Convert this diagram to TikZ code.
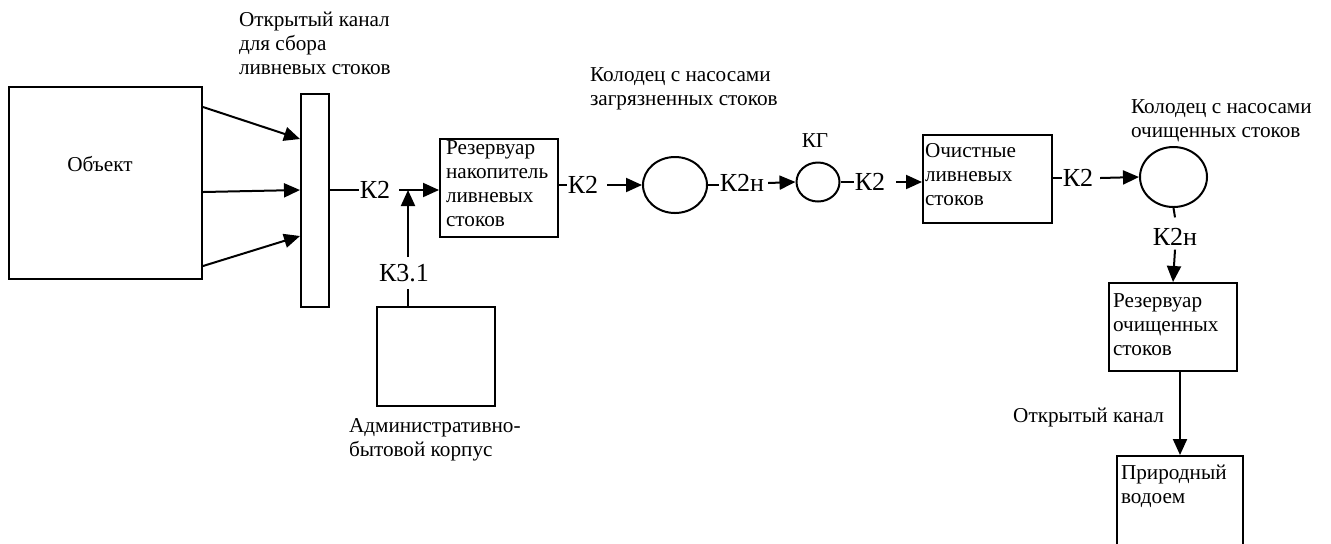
\documentclass[tikz,border=0pt]{standalone}
\usepackage{fontspec}
\setmainfont{Liberation Serif}
\usetikzlibrary{arrows.meta,shapes.geometric}

\begin{document}
\begin{tikzpicture}[x=0.5pt,y=-0.5pt,line width=1pt,
  unit/.style={draw,rectangle,inner sep=0pt},
  well/.style={draw,ellipse,inner sep=0pt},
  txt/.style={font=\fontsize{10.6}{12}\selectfont,align=left,inner sep=0pt},
  pipe/.style={font=\fontsize{13}{14}\selectfont,inner sep=0pt},
  flow/.style={-{Triangle[length=8pt,width=7pt]}}]
\useasboundingbox (0,0) rectangle (1331,543);
\clip (0,0) rectangle (1331,543);

% Object and open channel
\node[unit,minimum width=96.5pt,minimum height=96pt] (obj) at (105.5,183) {};
\node[txt,anchor=base] (objtxt) at (100,171) {Объект};
\node[unit,minimum width=14pt,minimum height=106.5pt] (chan) at (315,200.5) {};
\node[txt,anchor=base west] (chantxt) at (238,74) {Открытый канал\\для сбора\\ливневых стоков};
\draw[flow] ([yshift=38pt]obj.east) -- ([yshift=30.75pt]chan.west);
\draw[flow] ([yshift=-4.5pt]obj.east) -- ([yshift=5.25pt]chan.west);
\draw[flow] ([yshift=-41.5pt]obj.east) -- ([yshift=-17.75pt]chan.west);

% Storage tank and admin building
\node[unit,minimum width=59pt,minimum height=49pt] (res) at (499,188) {};
\node[txt,anchor=base west] (restxt) at (445,226) {Резервуар\\накопитель\\ливневых\\стоков};
\node[pipe] (k2a) at (375,190) {К2};
\draw (chan.east |- k2a) -- (k2a.west);
\draw[flow] ([xshift=4pt]k2a.east) -- (res.west |- k2a);
\node[unit,minimum width=59pt,minimum height=49.5pt] (admin) at (436,356.5) {};
\node[txt,anchor=base west] (admintxt) at (348,456) {Административно-\\бытовой корпус};
\coordinate (join) at (408,190);
\node[pipe,inner ysep=3pt] (k31) at (404,273) {К3.1};
\draw (admin.north -| join) -- (k31.south -| join);
\draw[flow] (k31.north -| join) -- (join);

% Pump wells and treatment
\node[well,minimum width=32pt,minimum height=28pt] (c1) at (675,185) {};
\node[txt,anchor=base west] (c1txt) at (589,105) {Колодец с насосами\\загрязненных стоков};
\node[pipe] (k2b) at (583,185) {К2};
\draw (res.east |- k2b) -- (k2b.west);
\draw[flow] ([xshift=4pt]k2b.east) -- (c1.west);
\node[well,minimum width=21.5pt,minimum height=19.5pt] (c2) at (818,182) {};
\node[txt,anchor=base] (kgtxt) at (815,147) {КГ};
\node[pipe] (k2n1) at (742,183) {К2н};
\draw (c1.east) -- (k2n1.west |- c1.east);
\draw[flow] ([xshift=1.5pt]k2n1.east) -- (c2.west);
\node[unit,minimum width=64.5pt,minimum height=44pt] (och) at (987.5,179) {};
\node[txt,anchor=base west] (ochtxt) at (924,205) {Очистные\\ливневых\\стоков};
\node[pipe] (k2c) at (870,182) {К2};
\draw (c2.east) -- (k2c.west);
\draw[flow] ([xshift=5pt]k2c.east) -- (och.west |- k2c);
\node[well,minimum width=33.5pt,minimum height=30pt] (c3) at (1173.5,177) {};
\node[txt,anchor=base west] (c3txt) at (1130,137) {Колодец с насосами\\очищенных стоков};
\node[pipe] (k2d) at (1078,178) {К2};
\draw (och.east |- k2d) -- (k2d.west);
\draw[flow] ([xshift=3pt]k2d.east) -- (c3.west);

% Clean water tank and outlet
\node[unit,minimum width=64pt,minimum height=44pt] (res2) at (1173,327) {};
\node[txt,anchor=base west] (res2txt) at (1112,355) {Резервуар\\очищенных\\стоков};
\node[pipe] (k2n2) at (1175,237) {К2н};
\draw (c3.south) -- ([yshift=5pt]k2n2.north);
\draw[flow] ([yshift=-1.5pt]k2n2.south) -- (res2.north);
\node[unit,minimum width=63pt,minimum height=72pt] (nat) at (1180,528) {};
\node[txt,anchor=base west] (nattxt) at (1120,503) {Природный\\водоем};
\draw[flow] (res2.south -| nat.north) -- (nat.north);
\node[txt,anchor=base east] (opentxt) at (1165,422) {Открытый канал};
\end{tikzpicture}
\end{document}
